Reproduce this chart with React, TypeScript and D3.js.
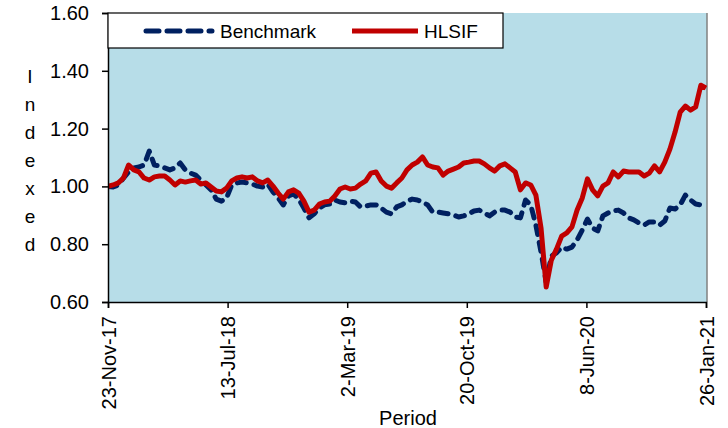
import React, { useEffect, useRef } from 'react';
import * as d3 from 'd3';

// sample dates, every 10 days from 23-Nov-17 to 26-Jan-21
const dates = [
  '2017-11-23', '2017-12-03', '2017-12-13', '2017-12-23',
  '2018-01-02', '2018-01-12', '2018-01-22', '2018-02-01', '2018-02-11', '2018-02-21',
  '2018-03-03', '2018-03-13', '2018-03-23', '2018-04-02', '2018-04-12', '2018-04-22',
  '2018-05-02', '2018-05-12', '2018-05-22', '2018-06-01', '2018-06-11', '2018-06-21',
  '2018-07-01', '2018-07-11', '2018-07-21', '2018-07-31', '2018-08-10', '2018-08-20',
  '2018-08-30', '2018-09-09', '2018-09-19', '2018-09-29', '2018-10-09', '2018-10-19',
  '2018-10-29', '2018-11-08', '2018-11-18', '2018-11-28', '2018-12-08', '2018-12-18',
  '2018-12-28',
  '2019-01-07', '2019-01-17', '2019-01-27', '2019-02-06', '2019-02-16', '2019-02-26',
  '2019-03-08', '2019-03-18', '2019-03-28', '2019-04-07', '2019-04-17', '2019-04-27',
  '2019-05-07', '2019-05-17', '2019-05-27', '2019-06-06', '2019-06-16', '2019-06-26',
  '2019-07-06', '2019-07-16', '2019-07-26', '2019-08-05', '2019-08-15', '2019-08-25',
  '2019-09-04', '2019-09-14', '2019-09-24', '2019-10-04', '2019-10-14', '2019-10-24',
  '2019-11-03', '2019-11-13', '2019-11-23', '2019-12-03', '2019-12-13', '2019-12-23',
  '2020-01-02', '2020-01-12', '2020-01-22', '2020-02-01', '2020-02-11', '2020-02-21',
  '2020-03-02', '2020-03-12', '2020-03-22', '2020-04-01', '2020-04-11', '2020-04-21',
  '2020-05-01', '2020-05-11', '2020-05-21', '2020-05-31', '2020-06-10', '2020-06-20',
  '2020-06-30', '2020-07-10', '2020-07-20', '2020-07-30', '2020-08-09', '2020-08-19',
  '2020-08-29', '2020-09-08', '2020-09-18', '2020-09-28', '2020-10-08', '2020-10-18',
  '2020-10-28', '2020-11-07', '2020-11-17', '2020-11-27', '2020-12-07', '2020-12-17',
  '2020-12-27',
  '2021-01-06', '2021-01-16', '2021-01-26'
];

const benchmark = [
  1.000, 0.998, 1.005, 1.029, 1.050, 1.064, 1.067, 1.074, 1.122, 1.074,
  1.071, 1.064, 1.057, 1.064, 1.081, 1.057, 1.046, 1.039, 1.022, 1.005,
  0.988, 0.956, 0.949, 0.960, 1.005, 1.012, 1.015, 1.012, 1.008, 1.001,
  0.998, 1.008, 0.981, 0.960, 0.936, 0.967, 0.974, 0.956, 0.925, 0.891,
  0.905, 0.925, 0.936, 0.939, 0.953, 0.946, 0.943, 0.949, 0.946, 0.929,
  0.932, 0.936, 0.936, 0.925, 0.911, 0.905, 0.929, 0.936, 0.949, 0.956,
  0.953, 0.946, 0.936, 0.911, 0.911, 0.908, 0.905, 0.901, 0.894, 0.898,
  0.905, 0.915, 0.918, 0.908, 0.898, 0.911, 0.918, 0.918, 0.911, 0.894,
  0.891, 0.953, 0.936, 0.866, 0.773, 0.669, 0.759, 0.770, 0.790, 0.783,
  0.790, 0.815, 0.849, 0.887, 0.856, 0.846, 0.898, 0.908, 0.915, 0.918,
  0.908, 0.891, 0.884, 0.873, 0.866, 0.877, 0.877, 0.866, 0.880, 0.925,
  0.922, 0.936, 0.970, 0.953, 0.939, 0.936, 0.929
];

const hlsif = [
  1.000, 1.005, 1.012, 1.029, 1.074, 1.057, 1.050, 1.029, 1.022, 1.033,
  1.036, 1.036, 1.022, 1.005, 1.019, 1.015, 1.019, 1.022, 1.008, 1.012,
  0.998, 0.984, 0.981, 0.994, 1.019, 1.029, 1.033, 1.029, 1.033, 1.019,
  1.012, 1.022, 1.001, 0.977, 0.956, 0.981, 0.988, 0.977, 0.949, 0.911,
  0.918, 0.939, 0.946, 0.949, 0.967, 0.991, 0.998, 0.991, 0.994, 1.008,
  1.019, 1.046, 1.050, 1.019, 1.001, 0.994, 1.012, 1.029, 1.057, 1.074,
  1.084, 1.102, 1.074, 1.067, 1.064, 1.039, 1.053, 1.060, 1.067, 1.081,
  1.084, 1.088, 1.088, 1.078, 1.064, 1.053, 1.071, 1.078, 1.064, 1.050,
  0.988, 1.012, 1.005, 0.970, 0.856, 0.652, 0.745, 0.783, 0.828, 0.839,
  0.860, 0.918, 0.960, 1.026, 0.988, 0.967, 1.001, 1.012, 1.050, 1.033,
  1.053, 1.050, 1.050, 1.050, 1.036, 1.046, 1.071, 1.050, 1.084, 1.129,
  1.188, 1.257, 1.278, 1.264, 1.275, 1.350, 1.340
];

const xTickDates = ['2017-11-23', '2018-07-13', '2019-03-02', '2019-10-20', '2020-06-08', '2021-01-26'];
const yTicks = [0.6, 0.8, 1.0, 1.2, 1.4, 1.6];
const yLabelLetters = ['I', 'n', 'd', 'e', 'x', 'e', 'd'];

const App = () => {
  const svgRef = useRef(null);

  useEffect(() => {
    const width = 728;
    const height = 428;
    const left = 108;
    const right = 707;
    const top = 13;
    const bottom = 302;
    const font = 'Arial, "Liberation Sans", sans-serif';

    const parse = d3.timeParse('%Y-%m-%d');
    const fmt = d3.timeFormat('%-d-%b-%y');

    const svg = d3.select(svgRef.current);
    svg.selectAll('*').remove();
    svg.attr('width', width).attr('height', height);

    svg.append('rect').attr('width', width).attr('height', height).attr('fill', '#ffffff');

    const x = d3.scaleTime()
      .domain([parse('2017-11-23'), parse('2021-01-26')])
      .range([left, right - 1]);
    const y = d3.scaleLinear().domain([0.6, 1.6]).range([bottom, top]);

    // plot area
    svg.append('rect')
      .attr('x', left).attr('y', top)
      .attr('width', right - left).attr('height', bottom - top)
      .attr('fill', '#b7dde8');
    svg.append('line')
      .attr('x1', right).attr('x2', right).attr('y1', top).attr('y2', bottom)
      .attr('stroke', '#808080').attr('stroke-width', 1.5);

    svg.append('defs').append('clipPath').attr('id', 'plotClip')
      .append('rect')
      .attr('x', left).attr('y', top)
      .attr('width', right - left).attr('height', bottom - top);

    const rows = dates.map((d, i) => ({ date: parse(d), b: benchmark[i], h: hlsif[i] }));

    const lineB = d3.line().x(d => x(d.date)).y(d => y(d.b));
    const lineH = d3.line().x(d => x(d.date)).y(d => y(d.h));

    const lines = svg.append('g').attr('clip-path', 'url(#plotClip)');
    lines.append('path')
      .attr('d', lineB(rows))
      .attr('fill', 'none')
      .attr('stroke', '#002060')
      .attr('stroke-width', 5)
      .attr('stroke-linecap', 'round')
      .attr('stroke-linejoin', 'round')
      .attr('stroke-dasharray', '9 8');
    lines.append('path')
      .attr('d', lineH(rows))
      .attr('fill', 'none')
      .attr('stroke', '#c00000')
      .attr('stroke-width', 5)
      .attr('stroke-linejoin', 'round');

    // y axis
    const yAxis = svg.append('g')
      .attr('transform', `translate(${left}, 0)`)
      .call(d3.axisLeft(y).tickValues(yTicks).tickFormat(d3.format('.2f')).tickSize(6).tickPadding(13));
    yAxis.select('.domain').attr('stroke', '#000').attr('stroke-width', 1.5);
    yAxis.selectAll('.tick line').attr('stroke', '#000').attr('stroke-width', 1.5);
    yAxis.selectAll('.tick text')
      .style('font-family', font).style('font-size', '20px').attr('fill', '#000');

    // x axis
    const xAxis = svg.append('g')
      .attr('transform', `translate(0, ${bottom})`)
      .call(d3.axisBottom(x).tickValues(xTickDates.map(parse)).tickFormat(fmt).tickSize(6));
    xAxis.select('.domain').attr('stroke', '#000').attr('stroke-width', 1.5);
    xAxis.selectAll('.tick line').attr('stroke', '#000').attr('stroke-width', 1.5);
    xAxis.selectAll('.tick text')
      .attr('transform', 'rotate(-90)')
      .attr('x', -14).attr('y', 0).attr('dy', '0.35em')
      .attr('text-anchor', 'end')
      .style('font-family', font).style('font-size', '20px').attr('fill', '#000');

    // axis titles
    svg.append('text')
      .attr('x', 408).attr('y', 425)
      .attr('text-anchor', 'middle')
      .style('font-family', font).style('font-size', '20px')
      .text('Period');

    yLabelLetters.forEach((ch, i) => {
      svg.append('text')
        .attr('x', 30).attr('y', 83 + i * 28)
        .attr('text-anchor', 'middle')
        .style('font-family', font).style('font-size', '19px')
        .text(ch);
    });

    // legend
    const legend = svg.append('g');
    legend.append('rect')
      .attr('x', left).attr('y', top)
      .attr('width', 395).attr('height', 35)
      .attr('fill', '#ffffff').attr('stroke', '#000').attr('stroke-width', 1.2);
    legend.append('line')
      .attr('x1', 146).attr('x2', 212).attr('y1', 31).attr('y2', 31)
      .attr('stroke', '#002060').attr('stroke-width', 5)
      .attr('stroke-linecap', 'round').attr('stroke-dasharray', '13 8');
    legend.append('text')
      .attr('x', 220).attr('y', 38)
      .style('font-family', font).style('font-size', '19px')
      .text('Benchmark');
    legend.append('line')
      .attr('x1', 352).attr('x2', 418).attr('y1', 31).attr('y2', 31)
      .attr('stroke', '#c00000').attr('stroke-width', 5);
    legend.append('text')
      .attr('x', 424).attr('y', 38)
      .style('font-family', font).style('font-size', '19px')
      .text('HLSIF');
  }, []);

  return (
    <div style={{ position: 'absolute', left: 0, top: 0 }}>
      <svg ref={svgRef} style={{ display: 'block' }}></svg>
    </div>
  );
};

export default App;
